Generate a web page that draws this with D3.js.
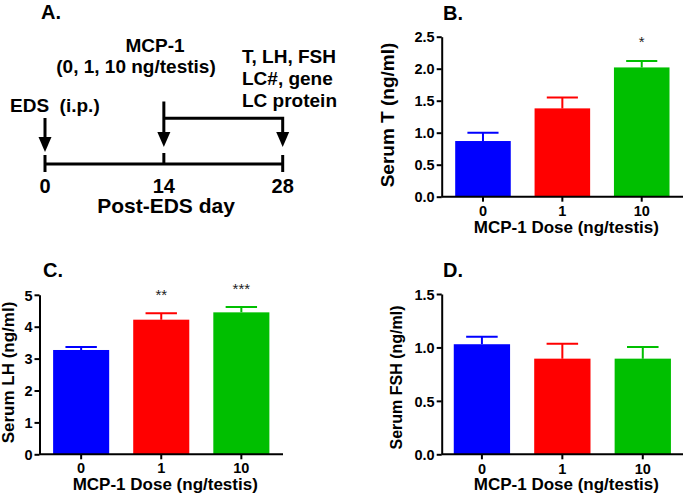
<!DOCTYPE html>
<html>
<head>
<meta charset="utf-8">
<script src="https://cdn.jsdelivr.net/npm/d3@7"></script>
<style>
  body { margin: 0; background: #fff; }
  svg { display: block; font-family: "Liberation Sans", Arial, sans-serif; }
  .b { font-weight: bold; }
</style>
</head>
<body>
<div id="container"></div>
<script>
// data
var doses = ["0", "1", "10"];
var barColors = ["#0000ff", "#ff0000", "#00bf00"];

var serumT = [0.87, 1.38, 2.02];
var serumTErr = [0.13, 0.17, 0.10];
var serumTStars = ["", "", "*"];
var serumTTicks = ["0.0", "0.5", "1.0", "1.5", "2.0", "2.5"];

var serumLH = [3.27, 4.22, 4.45];
var serumLHErr = [0.09, 0.2, 0.17];
var serumLHStars = ["", "**", "***"];
var serumLHTicks = ["0", "1", "2", "3", "4", "5"];

var serumFSH = [1.03, 0.895, 0.895];
var serumFSHErr = [0.07, 0.14, 0.11];
var serumFSHStars = ["", "", ""];
var serumFSHTicks = ["0.0", "0.5", "1.0", "1.5"];

var days = [0, 14, 28];

var svg = d3.select("#container").append("svg")
  .attr("width", 685)
  .attr("height", 496);

/* panel A: timeline */
var gA = svg.append("g");
var xDay = d3.scaleLinear().domain([0, 28]).range([45, 282.7]);
var lineY = 164;

gA.append("text").attr("class", "b").attr("x", 41).attr("y", 18.5)
  .style("font-size", "20px").text("A.");

gA.append("line")
  .attr("x1", xDay(0)).attr("x2", xDay(28))
  .attr("y1", lineY).attr("y2", lineY)
  .attr("stroke", "#000").attr("stroke-width", 3);

gA.selectAll(".dtick").data(days).enter().append("line")
  .attr("class", "dtick")
  .attr("x1", (d) => xDay(d)).attr("x2", (d) => xDay(d))
  .attr("y1", (d) => d === 14 ? 153 : 155)
  .attr("y2", (d) => d === 14 ? 164 : 172)
  .attr("stroke", "#000").attr("stroke-width", 3);

gA.selectAll(".dlab").data(days).enter().append("text")
  .attr("class", "b dlab")
  .attr("x", (d) => xDay(d)).attr("y", 192.5)
  .attr("text-anchor", "middle")
  .style("font-size", "20px")
  .text((d) => d);

gA.append("text").attr("class", "b")
  .attr("x", 166).attr("y", 213)
  .attr("text-anchor", "middle")
  .style("font-size", "21px")
  .text("Post-EDS day");

function arrowHead(x, tip) {
  gA.append("path")
    .attr("d", "M" + (x - 6.5) + "," + (tip - 15) + "L" + (x + 6.5) + "," + (tip - 15) + "L" + x + "," + tip + "Z")
    .attr("fill", "#000");
}

// EDS arrow
gA.append("line")
  .attr("x1", xDay(0)).attr("x2", xDay(0))
  .attr("y1", 118).attr("y2", 140)
  .attr("stroke", "#000").attr("stroke-width", 3);
arrowHead(xDay(0), 152);

// MCP-1 arrow and bracket to day 28
gA.append("path")
  .attr("d", "M" + xDay(14) + ",101.5V135M" + xDay(14) + ",118.3H" + xDay(28) + "V135")
  .attr("fill", "none")
  .attr("stroke", "#000").attr("stroke-width", 3);
arrowHead(xDay(14), 147);
arrowHead(xDay(28), 147);

gA.append("text").attr("class", "b").attr("x", 10).attr("y", 111.5)
  .attr("xml:space", "preserve")
  .style("font-size", "19px").style("white-space", "pre")
  .text("EDS  (i.p.)");

gA.append("text").attr("class", "b").attr("x", 155).attr("y", 51.5)
  .attr("text-anchor", "middle").style("font-size", "19px")
  .text("MCP-1");
gA.append("text").attr("class", "b").attr("x", 136).attr("y", 73.3)
  .attr("text-anchor", "middle").style("font-size", "19px")
  .text("(0, 1, 10 ng/testis)");

gA.selectAll(".endp").data(["T, LH, FSH", "LC#, gene", "LC protein"]).enter()
  .append("text").attr("class", "b endp")
  .attr("x", 242).attr("y", (d, i) => 63.3 + i * 21.7)
  .style("font-size", "19px")
  .text((d) => d);

/* bar panels */
function barPanel(opt) {
  var g = svg.append("g");
  var y = d3.scaleLinear().domain([0, opt.max]).range([opt.y0, opt.y1]);
  var x = d3.scaleBand().domain(doses)
    .range([opt.x0, opt.x1])
    .paddingInner(0.3).paddingOuter(opt.outer);

  g.append("text").attr("class", "b")
    .attr("x", opt.title[1]).attr("y", opt.title[2])
    .style("font-size", "20px").text(opt.title[0]);

  g.selectAll(".bar").data(opt.values).enter().append("rect")
    .attr("class", "bar")
    .attr("x", (d, i) => x(doses[i]))
    .attr("width", x.bandwidth())
    .attr("y", (d) => y(d))
    .attr("height", (d) => y(0) - y(d))
    .attr("fill", (d, i) => barColors[i]);

  var cap = x.bandwidth() * 0.28;
  g.selectAll(".err").data(opt.values).enter().append("path")
    .attr("class", "err")
    .attr("d", function (d, i) {
      var cx = x(doses[i]) + x.bandwidth() / 2;
      var top = y(d + opt.err[i]);
      return "M" + cx + "," + y(d) + "V" + top + "M" + (cx - cap) + "," + top + "H" + (cx + cap);
    })
    .attr("fill", "none")
    .attr("stroke", (d, i) => barColors[i])
    .attr("stroke-width", 2);

  g.selectAll(".star").data(opt.stars).enter().append("text")
    .attr("class", "star")
    .attr("x", (d, i) => x(doses[i]) + x.bandwidth() / 2)
    .attr("y", (d, i) => y(opt.values[i] + opt.err[i]) - opt.starGap[i])
    .attr("text-anchor", "middle")
    .style("font-size", "15px").attr("fill", "#222")
    .text((d) => d);

  var yAxis = g.append("g")
    .attr("transform", "translate(" + opt.x0 + ",0)")
    .call(d3.axisLeft(y).tickValues(opt.ticks.map(Number))
      .tickFormat((d, i) => opt.ticks[i]).tickSize(5).tickSizeOuter(0));
  var xAxis = g.append("g")
    .attr("transform", "translate(0," + opt.y0 + ")")
    .call(d3.axisBottom(x).tickSize(5).tickSizeOuter(0));
  xAxis.select(".domain").attr("d", "M" + opt.x0 + ",0H" + opt.x1);

  [yAxis, xAxis].forEach(function (a) {
    a.selectAll("path, line").attr("stroke", "#000").attr("stroke-width", 2);
    a.selectAll("text").attr("class", "b").attr("fill", "#000")
      .style("font-size", "14.5px").attr("font-family", null);
  });
  yAxis.selectAll("text").attr("x", -7).attr("dy", "0.36em");
  xAxis.selectAll("text").attr("y", 0).attr("dy", null)
    .attr("transform", "translate(0," + (opt.tickBase - opt.y0) + ")");

  g.append("text").attr("class", "b")
    .attr("transform", "translate(" + opt.ylab[1] + "," + opt.ylab[2] + ") rotate(-90)")
    .attr("text-anchor", "middle")
    .style("font-size", opt.ylab[3] + "px")
    .text(opt.ylab[0]);

  g.append("text").attr("class", "b")
    .attr("x", (opt.x0 + opt.x1) / 2 + 4).attr("y", opt.xlabBase)
    .attr("text-anchor", "middle").style("font-size", "17px")
    .text("MCP-1 Dose (ng/testis)");
}

barPanel({
  title: ["B.", 443, 20],
  values: serumT, err: serumTErr, stars: serumTStars, starGap: [0, 0, 14],
  ticks: serumTTicks, max: 2.5,
  x0: 441.7, x1: 683, y0: 196.7, y1: 36.7,
  outer: 0.17, tickBase: 215.5, xlabBase: 232.5,
  ylab: ["Serum T (ng/ml)", 394, 115, 19]
});

barPanel({
  title: ["C.", 43, 276.7],
  values: serumLH, err: serumLHErr, stars: serumLHStars, starGap: [0, 13, 13],
  ticks: serumLHTicks, max: 5,
  x0: 39.5, x1: 283, y0: 454.3, y1: 294.8,
  outer: 0.17, tickBase: 473, xlabBase: 490,
  ylab: ["Serum LH (ng/ml)", 14, 372.5, 17]
});

barPanel({
  title: ["D.", 443, 276.7],
  values: serumFSH, err: serumFSHErr, stars: serumFSHStars, starGap: [0, 0, 0],
  ticks: serumFSHTicks, max: 1.5,
  x0: 441.7, x1: 683, y0: 454.3, y1: 294,
  outer: 0.15, tickBase: 473.5, xlabBase: 490,
  ylab: ["Serum FSH (ng/ml)", 401.5, 377.5, 16]
});
</script>
</body>
</html>
